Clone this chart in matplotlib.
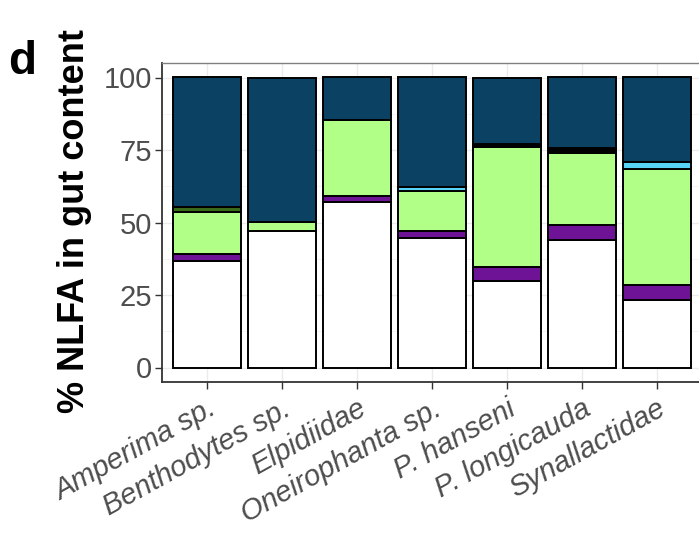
import matplotlib.pyplot as plt
import numpy as np

plt.rcParams['font.family'] = ['Liberation Sans', 'DejaVu Sans']

taxa = ["Amperima sp.", "Benthodytes sp.", "Elpidiidae", "Oneirophanta sp.",
        "P. hanseni", "P. longicauda", "Synallactidae"]

# stacked segments, bottom to top (%)
white = [36.6, 46.9, 57.2, 44.5, 30.0, 43.8, 23.3]
purple = [2.5, 0.0, 2.1, 2.6, 4.8, 5.3, 5.2]
lightgreen = [14.6, 3.4, 26.2, 13.7, 41.1, 25.0, 40.0]
darkgreen = [1.5, 0.0, 0.0, 0.0, 0.0, 0.0, 0.0]
cyan = [0.0, 0.0, 0.0, 1.6, 0.0, 0.0, 2.5]
black = [0.0, 0.0, 0.0, 0.0, 1.3, 1.5, 0.0]
navy = [100 - sum(v) for v in zip(white, purple, lightgreen, darkgreen, cyan, black)]

layers = [
    (white, '#FFFFFF'),
    (purple, '#6E1296'),
    (lightgreen, '#B2FF87'),
    (darkgreen, '#3A6B16'),
    (cyan, '#56D3F5'),
    (black, '#000000'),
    (navy, '#0B4263'),
]

fig = plt.figure(figsize=(6.99, 5.38), dpi=100)
ax = fig.add_axes([162 / 699, 1 - 382 / 538, 540 / 699, 319 / 538])

x = np.arange(1, len(taxa) + 1)
bottom = np.zeros(len(taxa))
for vals, col in layers:
    vals = np.array(vals)
    mask = vals > 0
    ax.bar(x[mask], vals[mask], bottom=bottom[mask], width=0.9, color=col,
           edgecolor='black', linewidth=1.4, zorder=3)
    bottom += vals

ax.set_xlim(0.4, 7.6)
ax.set_ylim(-5, 105)
ax.set_yticks([0, 25, 50, 75, 100])
ax.set_xticks(x)
ax.set_xticklabels(taxa, rotation=29, ha='right', rotation_mode='anchor',
                   fontstyle='italic', fontsize=21, color='#4D4D4D')
ax.tick_params(axis='y', labelsize=21, labelcolor='#4D4D4D', color='#333333',
               length=5, width=1, pad=2)
ax.tick_params(axis='x', color='#333333', length=5, width=1, pad=4)

ax.set_yticks([12.5, 37.5, 62.5, 87.5], minor=True)
ax.set_xticks([], minor=True)
ax.grid(True, which='major', color='#EBEBEB', linewidth=1.0, zorder=0)
ax.grid(True, which='minor', axis='y', color='#F2F2F2', linewidth=0.6, zorder=0)
ax.tick_params(which='minor', length=0)

for s in ['top', 'right']:
    ax.spines[s].set_color('#808080')
    ax.spines[s].set_linewidth(1.0)
for s in ['left', 'bottom']:
    ax.spines[s].set_color('#333333')
    ax.spines[s].set_linewidth(1.3)

ax.set_ylabel('% NLFA in gut content', fontsize=26, fontweight='bold',
              color='black', va='center')
ax.yaxis.set_label_coords(-0.162, 0.505)
fig.text(8 / 699, 1 - 62 / 538, 'd', fontsize=33, fontweight='bold',
         va='center', ha='left')

fig.savefig('out.png', dpi=100)
